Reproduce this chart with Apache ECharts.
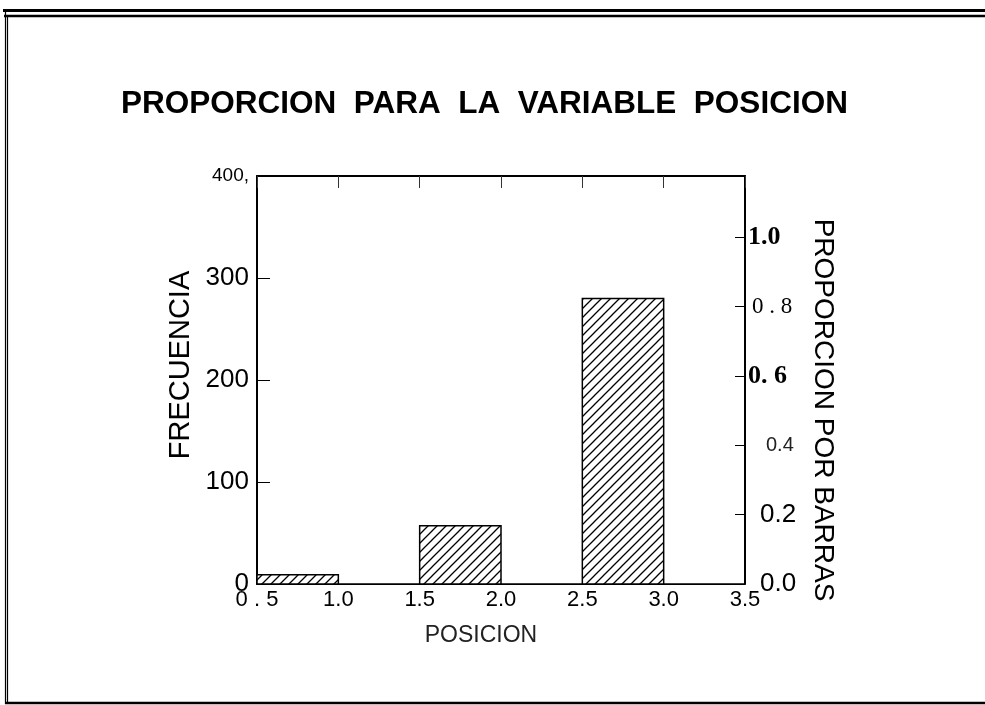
<!DOCTYPE html>
<html>
<head>
<meta charset="utf-8">
<script src="https://cdn.jsdelivr.net/npm/echarts@6/dist/echarts.min.js"></script>
<style>
  html, body { margin: 0; padding: 0; background: #fff; }
  #chart { width: 985px; height: 705px; }
</style>
</head>
<body>
<div id="chart"></div>
<script>
// datos del histograma
const binStart = [0.5, 1.0, 1.5, 2.0, 2.5, 3.0]
const binEnd = [1.0, 1.5, 2.0, 2.5, 3.0, 3.5]
const freq = [9, 0, 57, 0, 280, 0]
const xTickLabels = ['0 . 5', '1.0', '1.5', '2.0', '2.5', '3.0', '3.5']
const leftTickLabels = ['0', '100', '200', '300', '400,']
const rightTickLabels = ['0.0', '0.2', '0.4', '0. 6', '0 . 8', '1.0']

const sans = 'Liberation Sans, Arial, sans-serif'
const serif = 'Liberation Serif, Times New Roman, serif'

// trama rayada para las barras
function makeHatch() {
  const s = 9
  const c = document.createElement('canvas')
  c.width = s
  c.height = s
  const ctx = c.getContext('2d')
  ctx.fillStyle = '#fff'
  ctx.fillRect(0, 0, s, s)
  ctx.strokeStyle = '#000'
  ctx.lineWidth = 1.3
  ctx.beginPath()
  ctx.moveTo(0, s); ctx.lineTo(s, 0)
  ctx.moveTo(-2, 2); ctx.lineTo(2, -2)
  ctx.moveTo(s - 2, s + 2); ctx.lineTo(s + 2, s - 2)
  ctx.stroke()
  return c
}
const hatch = { image: makeHatch(), repeat: 'repeat' }

const chart = echarts.init(document.getElementById('chart'))

const rightRich = {
  b: { fontFamily: serif, fontWeight: 'bold', fontSize: 26, color: '#000' },
  r: { fontFamily: serif, fontSize: 23, color: '#000', padding: [0, 0, 0, 4] },
  s: { fontFamily: sans, fontSize: 20, color: '#222', padding: [0, 0, 0, 18] },
  m: { fontFamily: sans, fontSize: 26, color: '#000', padding: [0, 0, 0, 12] }
}
const rightStyle = ['m', 'm', 's', 'b', 'r', 'b']

const option = {
  animation: false,
  backgroundColor: '#fff',
  title: {
    text: 'PROPORCION  PARA  LA  VARIABLE  POSICION',
    left: 116,
    top: 83,
    textStyle: { fontFamily: sans, fontWeight: 'bold', fontSize: 31.5, color: '#000' }
  },
  grid: { left: 257, right: 240, top: 176, bottom: 121 },
  xAxis: [
    {
      type: 'value',
      min: 0.5,
      max: 3.5,
      interval: 0.5,
      name: 'POSICION',
      nameLocation: 'middle',
      nameGap: 40,
      nameTextStyle: { fontFamily: sans, fontSize: 23, color: '#222', padding: [0, 40, 0, 0] },
      axisLine: { lineStyle: { color: '#000', width: 1 } },
      axisTick: { show: false },
      splitLine: { show: false },
      axisLabel: {
        margin: 5,
        fontFamily: sans,
        fontSize: 22,
        color: '#000',
        formatter: (v) => xTickLabels[Math.round((v - 0.5) / 0.5)]
      }
    },
    {
      type: 'value',
      position: 'top',
      min: 0.5,
      max: 3.5,
      interval: 0.5,
      axisLine: { onZero: false, lineStyle: { color: '#000', width: 2 } },
      axisTick: { inside: true, length: 12, lineStyle: { color: '#333' } },
      axisLabel: { show: false },
      splitLine: { show: false }
    }
  ],
  yAxis: [
    {
      type: 'value',
      min: 0,
      max: 400,
      interval: 100,
      name: 'FRECUENCIA',
      nameLocation: 'middle',
      nameGap: 62,
      nameTextStyle: { fontFamily: sans, fontSize: 29, color: '#000', padding: [0, 0, 0, 30] },
      axisLine: { show: true, onZero: false, lineStyle: { color: '#000', width: 2 } },
      axisTick: { inside: true, length: 13, lineStyle: { color: '#000' } },
      splitLine: { show: false },
      axisLabel: {
        margin: 8,
        color: '#000',
        formatter: (v) => {
          const t = leftTickLabels[v / 100]
          return v === 400 ? '{s|' + t + '}' : '{n|' + t + '}'
        },
        rich: {
          n: { fontFamily: sans, fontSize: 26, color: '#000' },
          s: { fontFamily: sans, fontSize: 19, color: '#000', verticalAlign: 'bottom' }
        }
      }
    },
    {
      type: 'value',
      position: 'right',
      min: 0,
      max: 400 / 340,
      interval: 0.2,
      name: 'PROPORCION POR BARRAS',
      nameLocation: 'middle',
      nameRotate: -90,
      nameGap: 64,
      nameTextStyle: { fontFamily: sans, fontSize: 28, color: '#000', padding: [0, 0, 0, 60] },
      axisLine: { show: true, onZero: false, lineStyle: { color: '#000', width: 2 } },
      axisTick: { inside: true, length: 10, lineStyle: { color: '#000' } },
      splitLine: { show: false },
      axisLabel: {
        margin: 3,
        showMaxLabel: false,
        formatter: (v) => {
          const i = Math.round(v / 0.2)
          if (i > 5 || Math.abs(v - i * 0.2) > 1e-6) return ''
          return '{' + rightStyle[i] + '|' + rightTickLabels[i] + '}'
        },
        rich: rightRich
      }
    }
  ],
  graphic: [
    { type: 'line', shape: { x1: 3, y1: 10.5, x2: 985, y2: 10.5 }, style: { stroke: '#000', lineWidth: 3 } },
    { type: 'line', shape: { x1: 4, y1: 16, x2: 985, y2: 16 }, style: { stroke: '#000', lineWidth: 2.5 } },
    { type: 'line', shape: { x1: 5.5, y1: 12, x2: 5.5, y2: 704 }, style: { stroke: '#000', lineWidth: 1.2 } },
    { type: 'line', shape: { x1: 7.5, y1: 17, x2: 7.5, y2: 702 }, style: { stroke: '#000', lineWidth: 1.2 } },
    { type: 'line', shape: { x1: 5, y1: 703, x2: 985, y2: 703 }, style: { stroke: '#000', lineWidth: 2.5 } }
  ],
  series: [
    {
      type: 'custom',
      xAxisIndex: 0,
      yAxisIndex: 0,
      data: binStart.map((s, i) => [s, binEnd[i], freq[i]]),
      encode: { x: [0, 1], y: 2 },
      renderItem: (params, api) => {
        const p0 = api.coord([api.value(0), api.value(2)])
        const p1 = api.coord([api.value(1), 0])
        return {
          type: 'rect',
          shape: { x: p0[0], y: p0[1], width: p1[0] - p0[0], height: p1[1] - p0[1] },
          style: { fill: hatch, stroke: '#000', lineWidth: 1.5 }
        }
      }
    }
  ]
}
chart.setOption(option)
</script>
</body>
</html>
